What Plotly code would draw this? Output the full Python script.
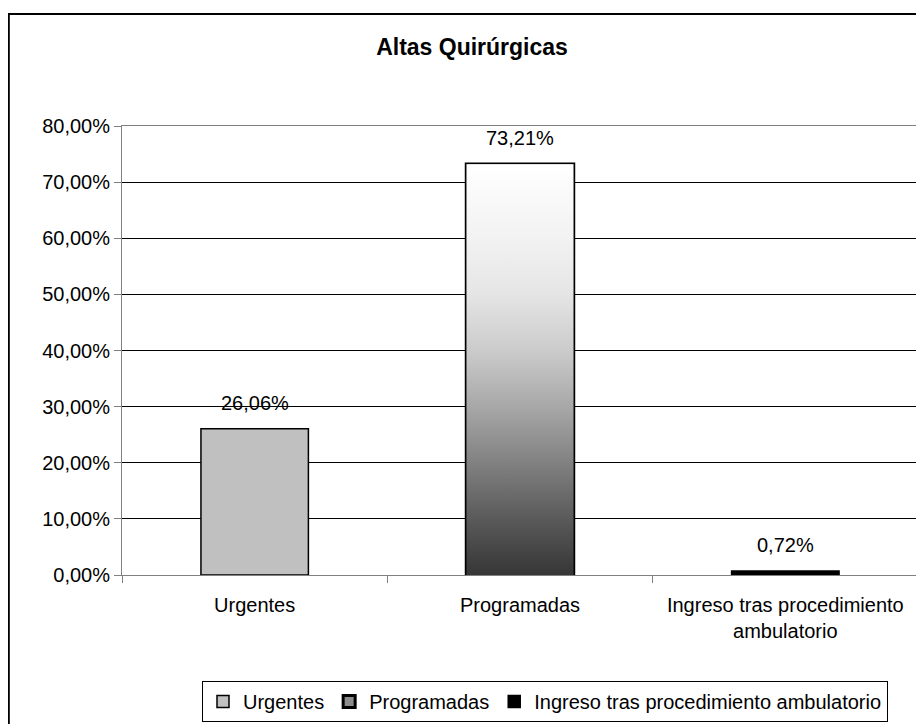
import base64
import plotly.graph_objects as go

# ---- data ----
categories = ["Urgentes", "Programadas", "Ingreso tras procedimiento ambulatorio"]
tick_labels = ["Urgentes", "Programadas", "Ingreso tras procedimiento<br>ambulatorio"]
values = [26.06, 73.21, 0.72]
bar_colors = ["#C0C0C0", "#8C8C8C", "#000000"]
y_ticks = [0, 10, 20, 30, 40, 50, 60, 70, 80]


def pct(v):
    return f"{v:.2f}".replace(".", ",") + "%"


FONT = "Liberation Sans, Arial, sans-serif"
FS = 20
BAR_W = 0.405

# the page body has an 8px margin -> figure is 8px smaller than the window
W, H = 916, 716
ML, MT, MR, MB = 114, 118, 6, 149

fig = go.Figure()
for i, (cat, val, col) in enumerate(zip(categories, values, bar_colors)):
    fig.add_trace(go.Bar(
        x=[i], y=[val], name=cat, width=BAR_W,
        marker=dict(color=col, line=dict(color="black", width=3 if i == 1 else 1.5)),
        hoverinfo="skip",
    ))
    fig.add_annotation(
        x=i, y=val, xref="x", yref="y", text=pct(val),
        showarrow=False, yanchor="middle", yshift=26,
        font=dict(family=FONT, size=FS, color="black"),
    )

# gradient fill for the "Programadas" bar (white top -> dark bottom)
svg = (
    '<svg xmlns="http://www.w3.org/2000/svg" width="10" height="100" viewBox="0 0 10 100" '
    'preserveAspectRatio="none"><defs><linearGradient id="g" x1="0" y1="0" x2="0" y2="1">'
    '<stop offset="0" stop-color="#FFFFFF"/>'
    '<stop offset="0.18" stop-color="#F2F2F2"/>'
    '<stop offset="0.31" stop-color="#E6E6E6"/>'
    '<stop offset="0.45" stop-color="#CCCCCC"/>'
    '<stop offset="0.59" stop-color="#A8A8A8"/>'
    '<stop offset="0.73" stop-color="#808080"/>'
    '<stop offset="0.87" stop-color="#585858"/>'
    '<stop offset="1" stop-color="#363636"/>'
    '</linearGradient></defs><rect x="0" y="0" width="10" height="100" fill="url(#g)"/></svg>'
)
src = "data:image/svg+xml;base64," + base64.b64encode(svg.encode()).decode()
fig.add_layout_image(
    source=src, xref="x", yref="y",
    x=1 - BAR_W / 2, y=values[1], sizex=BAR_W, sizey=values[1],
    xanchor="left", yanchor="top", sizing="stretch", layer="above",
)

# outer chart border (right/bottom run off the picture)
plot_w = W - ML - MR
plot_h = H - MT - MB
fig.add_shape(type="rect", xref="paper", yref="paper",
              x0=(0.8 - ML) / plot_w, x1=1.2, y0=-0.6, y1=(plot_h + MT - 6) / plot_h,
              line=dict(color="black", width=2), fillcolor="rgba(0,0,0,0)")

fig.update_layout(
    width=W, height=H,
    margin=dict(l=ML, r=MR, t=MT, b=MB, autoexpand=False),
    paper_bgcolor="white", plot_bgcolor="white",
    separators=",.",
    barmode="overlay",
    font=dict(family=FONT, size=FS, color="black"),
    title=dict(text="<b>Altas Quirúrgicas</b>", x=464 / W, xref="container",
               y=1 - 39 / H, yref="container", xanchor="center", yanchor="middle",
               font=dict(family=FONT, size=23, color="black")),
    showlegend=True,
    legend=dict(orientation="h", x=(537 - ML) / plot_w, xanchor="center",
                y=(plot_h + MT - 673) / plot_h, yanchor="top",
                bordercolor="black", borderwidth=1, bgcolor="white",
                font=dict(family=FONT, size=FS, color="black"),
                itemwidth=30, tracegroupgap=0),
    xaxis=dict(
        range=[-0.5, 2.5], tickmode="array", tickvals=list(range(len(categories))),
        ticktext=tick_labels, ticks="", showgrid=False, zeroline=False,
        showline=True, linecolor="#808080", linewidth=1, mirror=True,
        ticklabelstandoff=12,
        minor=dict(tickmode="array", tickvals=[-0.5, 0.5, 1.5, 2.5], ticks="outside",
                   ticklen=7, tickcolor="#808080", tickwidth=1, showgrid=False),
        tickfont=dict(family=FONT, size=FS, color="black"),
    ),
    yaxis=dict(
        range=[0, 80], tickmode="array", tickvals=y_ticks,
        ticktext=[pct(v) for v in y_ticks],
        ticks="outside", ticklen=7, tickcolor="#808080",
        showgrid=True, gridcolor="black", gridwidth=1, zeroline=False,
        showline=True, linecolor="#808080", linewidth=1, mirror=True,
        tickfont=dict(family=FONT, size=FS, color="black"),
    ),
)

fig.write_html("out.html")
